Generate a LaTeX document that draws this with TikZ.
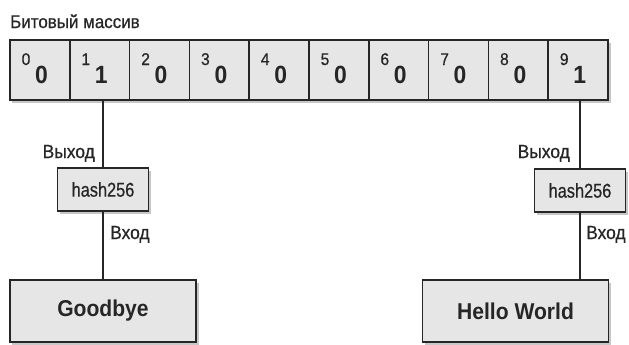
\documentclass[tikz,border=0pt]{standalone}
\usepackage{fontspec}
\setmainfont{Liberation Sans}[FakeStretch=0.92,FakeBold=0.6]
\newfontfamily\hashfont{Liberation Sans}[FakeStretch=0.82,FakeBold=0.6]
\newfontfamily\boldcond{Liberation Sans Bold}[FakeStretch=0.92]
\usetikzlibrary{shadows}
\definecolor{ink}{HTML}{262626}
\definecolor{boxfill}{HTML}{E6E6E6}
\definecolor{shade}{HTML}{9A9A9A}
\begin{document}
\begin{tikzpicture}[x=1bp,y=-1bp,
  box/.style={draw=ink, line width=1.7bp, fill=boxfill, inner sep=0pt, text=ink},
  shadowed/.style={drop shadow={shadow xshift=2.5bp, shadow yshift=-2.5bp, fill=shade, opacity=0.55}},
  cell/.style={box, minimum width=59.8bp, minimum height=60bp},
  hashbox/.style={box, shadowed, minimum width=91bp, minimum height=43bp, font=\hashfont\fontsize{20}{20}\selectfont},
  msgbox/.style={box, shadowed, minimum width=186bp, minimum height=62bp, font=\boldcond\fontsize{23}{23}\selectfont},
  bitval/.style={inner sep=0pt, anchor=base, text=ink, font=\boldcond\fontsize{25}{25}\selectfont},
  bitidx/.style={inner sep=0pt, anchor=base, text=ink, font=\fontsize{17}{17}\selectfont},
  lbl/.style={inner sep=0pt, text=ink, font=\fontsize{19}{19}\selectfont},
  conn/.style={draw=ink, line width=1.7bp}
]
\path[use as bounding box, fill=white] (0,0) rectangle (629,344);

\node[lbl, anchor=base west, font=\fontsize{18.5}{18.5}\selectfont] (title) at (10,28) {Битовый массив};

\foreach \i/\v in {0/0,1/1,2/0,3/0,4/0,5/0,6/0,7/0,8/0,9/1}{
  \node[cell, shadowed] (c\i) at ({10+59.8*\i+29.9},70) {};
}
\foreach \i/\v in {0/0,1/1,2/0,3/0,4/0,5/0,6/0,7/0,8/0,9/1}{
  \node[bitidx] (s\i) at ({10+59.8*\i+16},65) {\i};
  \node[bitval] (v\i) at ({10+59.8*\i+31.5},83) {\v};
}

\node[hashbox] (h1) at (103,189.5) {hash256};
\node[hashbox] (h2) at (580,190.5) {hash256};

\node[msgbox] (g) at (103,311) {Goodbye};
\node[msgbox] (hw) at (515.5,311) {Hello World};

\draw[conn] (h1.north) -- (h1.north |- c1.south);
\draw[conn] (h1.south) -- (g.north);
\draw[conn] (h2.north) -- (h2.north |- c9.south);
\draw[conn] (h2.south) -- (h2.south |- hw.north);

\node[lbl, anchor=base east] (o1) at (95,158) {Выход};
\node[lbl, anchor=base west] (i1) at (110,239) {Вход};
\node[lbl, anchor=base east] (o2) at (570,158) {Выход};
\node[lbl, anchor=base west] (i2) at (586,239) {Вход};
\end{tikzpicture}
\end{document}
